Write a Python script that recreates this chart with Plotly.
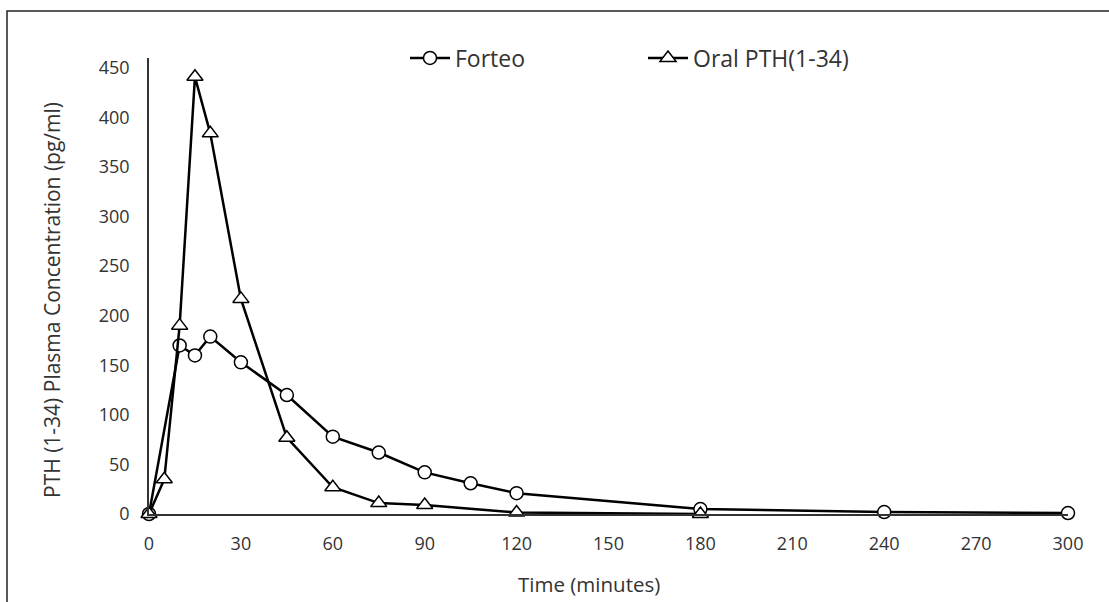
import plotly.graph_objects as go

# Data
forteo_time = [0, 10, 15, 20, 30, 45, 60, 75, 90, 105, 120, 180, 240, 300]
forteo_conc = [0, 170, 160, 179, 153, 120, 78, 62, 42, 31, 21, 5, 2, 1]

oral_time = [0, 5, 10, 15, 20, 30, 45, 60, 75, 90, 120, 180]
oral_conc = [0, 35, 190, 441, 384, 217, 77, 27, 11, 9, 1.5, 0]

x_ticks = [0, 30, 60, 90, 120, 150, 180, 210, 240, 270, 300]
y_ticks = [0, 50, 100, 150, 200, 250, 300, 350, 400, 450]

FONT = "Open Sans"
TXT = "#333333"

fig = go.Figure()
fig.add_trace(go.Scatter(
    x=forteo_time, y=forteo_conc, name="Forteo", mode="lines+markers",
    line=dict(color="black", width=2.5),
    marker=dict(symbol="circle", size=13, color="white", line=dict(color="black", width=1.5)),
    cliponaxis=False,
))
fig.add_trace(go.Scatter(
    x=oral_time, y=oral_conc, name="Oral PTH(1-34)", mode="lines+markers",
    line=dict(color="black", width=2.5),
    marker=dict(symbol="triangle-up", size=14, color="white", line=dict(color="black", width=1.5)),
    cliponaxis=False,
))

L, R, T, B = 149, 41, 58, 88
W, H = 1109, 602
pw, ph = W - L - R, H - T - B

def px(xpix):
    return (xpix - L) / pw

def py(ypix):
    return (H - B - ypix) / ph

fig.update_layout(
    width=W, height=H,
    margin=dict(l=L, r=R, t=T, b=B),
    paper_bgcolor="white", plot_bgcolor="white",
    font=dict(family=FONT, color=TXT),
    showlegend=True,
    legend=dict(
        orientation="h", x=px(405), y=py(58), xanchor="left", yanchor="middle",
        font=dict(size=23, color=TXT, family=FONT), bgcolor="rgba(0,0,0,0)",
        itemwidth=40, entrywidth=183, entrywidthmode="pixels",
    ),
    xaxis=dict(
        range=[0, 300], tickvals=x_ticks, showgrid=False, zeroline=False,
        showline=True, linecolor="#333333", linewidth=1.5,
        ticks="", tickfont=dict(size=18, color=TXT, family=FONT),
        ticklabelstandoff=13,
    ),
    yaxis=dict(
        range=[0, 460], tickvals=y_ticks, showgrid=False, zeroline=False,
        showline=True, linecolor="#333333", linewidth=1.5,
        ticks="", tickfont=dict(size=18, color=TXT, family=FONT),
        ticklabelstandoff=14,
    ),
    annotations=[
        dict(text="PTH (1-34) Plasma Concentration (pg/ml)", xref="paper", yref="paper",
             x=px(52), y=py(300), xanchor="center", yanchor="middle", textangle=-90,
             showarrow=False, font=dict(size=21, color=TXT, family=FONT)),
        dict(text="Time (minutes)", xref="paper", yref="paper",
             x=px(589), y=py(584), xanchor="center", yanchor="middle",
             showarrow=False, font=dict(size=20.5, color=TXT, family=FONT)),
    ],
    shapes=[
        dict(type="rect", xref="paper", yref="paper",
             x0=px(7), x1=px(1130), y0=py(640), y1=py(11),
             line=dict(color="#222222", width=1.5), fillcolor="rgba(0,0,0,0)", layer="below"),
    ],
)

fig.write_html("out.html")
